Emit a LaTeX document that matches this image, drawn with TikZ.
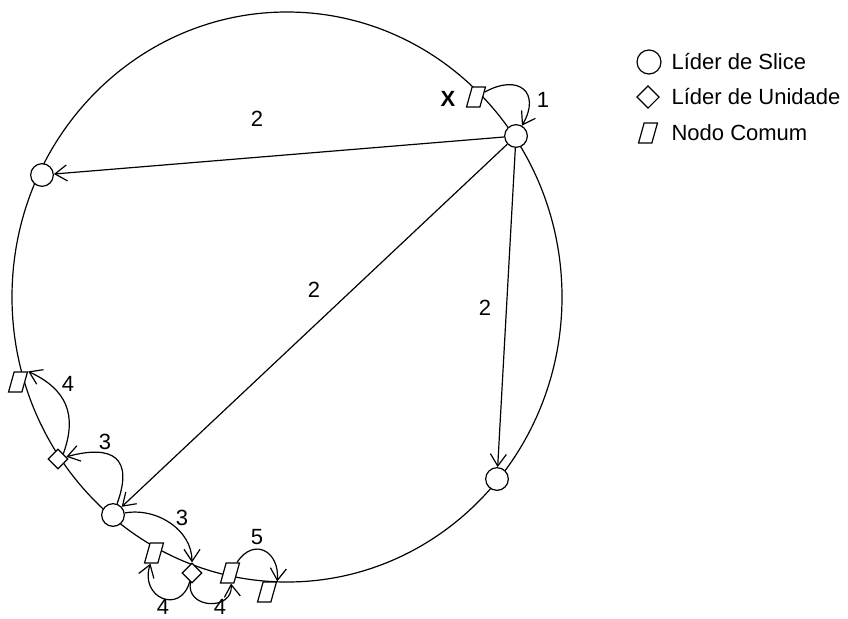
\documentclass[tikz,border=0pt]{standalone}
\usepackage{fontspec}
\setmainfont{Liberation Sans}
\usetikzlibrary{arrows.meta, shapes.geometric}

\begin{document}
\begin{tikzpicture}[
        x = 0.75pt, y = -0.75pt,
        line width = 0.9pt,
        >= {Straight Barb[length = 9pt, width = 12pt]},
        font = \fontsize{16.5}{20}\selectfont,
        slice/.style = {draw, circle, fill = white, inner sep = 0pt, minimum size = 17pt},
        unidade/.style = {draw, diamond, fill = white, inner sep = 0pt, minimum size = 15pt},
        comum/.style = {draw, rectangle, xslant = 0.28, fill = white, inner sep = 0pt,
            minimum width = 10pt, minimum height = 15pt},
        rotulo/.style = {inner sep = 0pt}
    ]

    \useasboundingbox (0,0) rectangle (848,618);

    \draw (287,297) ellipse [x radius = 275, y radius = 285];

        \node[slice] (s1) at (516,136) {};
        \node[slice] (s2) at (42,175) {};
        \node[slice] (s3) at (113,515) {};
        \node[slice] (s4) at (497,479) {};
        \node[comum] (x) at (476,97) {};
        \node[comum] (c1) at (18,382) {};
        \node[unidade] (u1) at (58,459) {};
        \node[comum] (c2) at (154,553) {};
        \node[unidade] (u2) at (192,573) {};
        \node[comum] (c3) at (230,573) {};
        \node[comum] (c4) at (267,592) {};

        \path[->]
            (x) edge [out = 30, in = 60, looseness = 2] (s1)
            (s1) edge (s2)
            (s1) edge (s3)
            (s1) edge (s4)
            (s3) edge [out = 70, in = 15, looseness = 1.8] (u1)
            (u1.north east) edge [out = 70, in = -25, looseness = 1.2] (c1.north east)
            (s3) edge [out = 10, in = 90] (u2)
            (u2) edge [out = -105, in = -105, looseness = 2] (c2)
            (u2) edge [out = -100, in = -80, looseness = 1.85] (c3)
            (c3) edge [out = 60, in = 85, looseness = 1.8] (c4.north east);

        \node[rotulo, font = \fontsize{16.5}{20}\selectfont\bfseries] (lx) at (448,99) {X};
        \node[rotulo] (l1) at (543,100) {1};
        \node[rotulo] (l2a) at (257,119) {2};
        \node[rotulo] (l2b) at (314,290) {2};
        \node[rotulo] (l2c) at (485,308) {2};
        \node[rotulo] (l4a) at (68,384) {4};
        \node[rotulo] (l3a) at (105,442) {3};
        \node[rotulo] (l3b) at (182,518) {3};
        \node[rotulo] (l5) at (257,537) {5};
        \node[rotulo] (l4b) at (163,607) {4};
        \node[rotulo] (l4c) at (220,607) {4};

        \node[slice, minimum size = 18pt] (ls) at (649,62) {};
        \node[unidade, minimum size = 17pt] (lu) at (648,97) {};
        \node[comum] (lc) at (648,133) {};
        \node[rotulo, anchor = west] (ts) at (671,62) {Líder de Slice};
        \node[rotulo, anchor = west] (tu) at (671,97) {Líder de Unidade};
        \node[rotulo, anchor = west] (tc) at (671,133) {Nodo Comum};

\end{tikzpicture}
\end{document}
